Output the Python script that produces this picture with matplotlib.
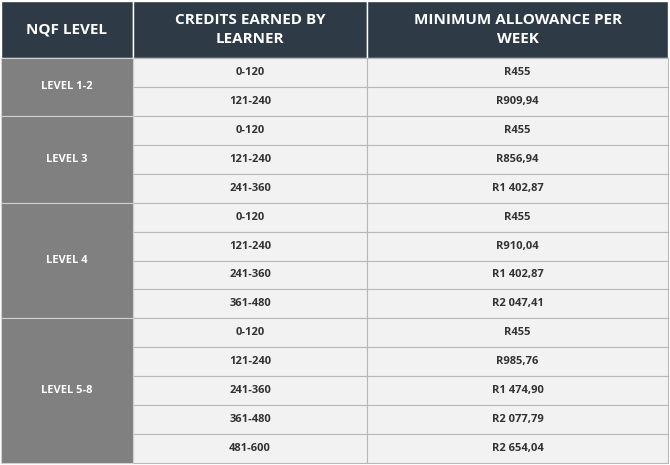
import matplotlib
matplotlib.use("Agg")
import matplotlib.pyplot as plt
from matplotlib.patches import Rectangle

headers = ["NQF LEVEL", "CREDITS EARNED BY\nLEARNER", "MINIMUM ALLOWANCE PER\nWEEK"]
levels = ["LEVEL 1-2", "LEVEL 3", "LEVEL 4", "LEVEL 5-8"]
levelRows = [2, 3, 4, 5]
credits = ["0-120", "121-240",
           "0-120", "121-240", "241-360",
           "0-120", "121-240", "241-360", "361-480",
           "0-120", "121-240", "241-360", "361-480", "481-600"]
allowances = ["R455", "R909,94",
              "R455", "R856,94", "R1 402,87",
              "R455", "R910,04", "R1 402,87", "R2 047,41",
              "R455", "R985,76", "R1 474,90", "R2 077,79", "R2 654,04"]

W, H = 670, 465
colX = [1, 133, 367, 668]
headTop, headBottom = 1, 58
rowH = (463 - headBottom) / len(credits)

headColor = "#2e3b47"
levelColor = "#808080"
cellColor = "#f2f2f2"
lineColor = "#b8b8b8"
font = "Open Sans"

fig = plt.figure(figsize=(W / 100, H / 100), dpi=100)
ax = fig.add_axes([0, 0, 1, 1])
ax.set_xlim(0, W)
ax.set_ylim(H, 0)
ax.axis("off")

# header
for i, h in enumerate(headers):
    ax.add_patch(Rectangle((colX[i], headTop), colX[i + 1] - colX[i], headBottom - headTop,
                           facecolor=headColor, edgecolor="white", lw=1))
    ax.text((colX[i] + colX[i + 1]) / 2, (headTop + headBottom) / 2, h, color="white",
            ha="center", va="center", fontsize=11, fontweight="bold", family=font, linespacing=1.5)

# body rows
for r, (c, a) in enumerate(zip(credits, allowances)):
    y = headBottom + r * rowH
    for i, t in ((1, c), (2, a)):
        ax.add_patch(Rectangle((colX[i], y), colX[i + 1] - colX[i], rowH,
                               facecolor=cellColor, edgecolor=lineColor, lw=0.8))
        ax.text((colX[i] + colX[i + 1]) / 2, y + rowH / 2, t, color="#333333",
                ha="center", va="center", fontsize=8, fontweight="bold", family=font)

# level column
start = 0
for lvl, n in zip(levels, levelRows):
    y = headBottom + start * rowH
    ax.add_patch(Rectangle((colX[0], y), colX[1] - colX[0], n * rowH,
                           facecolor=levelColor, edgecolor="#d0d0d0", lw=0.8))
    ax.text((colX[0] + colX[1]) / 2, y + n * rowH / 2, lvl, color="white",
            ha="center", va="center", fontsize=8, fontweight="bold", family=font)
    start += n

fig.savefig("out.png", dpi=100, facecolor="white")
